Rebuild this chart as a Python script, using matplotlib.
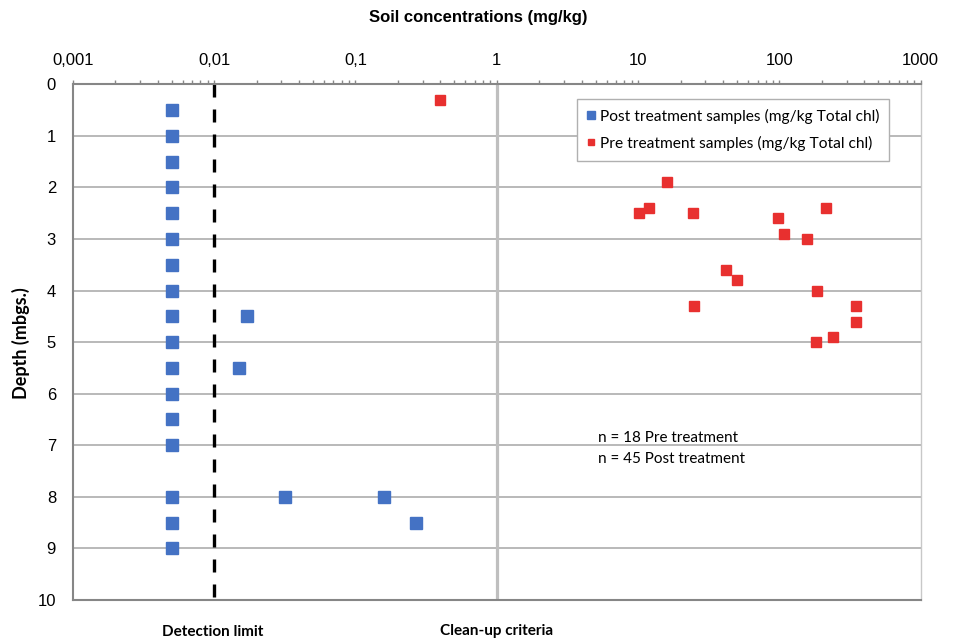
import numpy as np
import matplotlib
matplotlib.use('Agg')
import matplotlib.pyplot as plt
from matplotlib.ticker import FixedLocator, LogLocator, NullFormatter

# post treatment samples (mg/kg Total chl)
post_conc = [0.005] * 17 + [0.017, 0.015, 0.032, 0.16, 0.27]
post_depth = [0.5, 1, 1.5, 2, 2.5, 3, 3.5, 4, 4.5, 5, 5.5, 6, 6.5, 7, 8, 8.5, 9,
              4.5, 5.5, 8, 8, 8.5]

# pre treatment samples (mg/kg Total chl)
pre_conc = [0.40, 16, 10.1, 12, 24.4, 98, 215, 108, 157, 42, 50, 184, 25,
            346, 349, 241, 182]
pre_depth = [0.3, 1.9, 2.5, 2.4, 2.5, 2.6, 2.4, 2.9, 3.0, 3.6, 3.8, 4.0, 4.3,
             4.3, 4.6, 4.9, 5.0]

detection_limit = 0.01
cleanup = 1.0

xticks = [0.001, 0.01, 0.1, 1, 10, 100, 1000]
xticklabels = ['0,001', '0,01', '0,1', '1', '10', '100', '1000']
yticks = list(range(0, 11))

fig = plt.figure(figsize=(9.58, 6.41), dpi=100)
ax = fig.add_axes([0.0759, 0.064, 0.8852, 0.8045])

ax.set_xscale('log')
ax.set_xlim(0.001, 1000)
ax.set_ylim(10, 0)

for y in yticks:
    ax.axhline(y, color='#a6a6a6', lw=1.1, zorder=1)

ax.axvline(cleanup, color='#bfbfbf', lw=2.3, zorder=2)
ax.plot([detection_limit, detection_limit], [0, 10], color='black', lw=2.4,
        ls=(0, (3.9, 3.6)), zorder=2, solid_capstyle='butt')

ax.plot(post_conc, post_depth, ls='none', marker='s', ms=8, color='#4472C4',
        mec='#4472C4', zorder=4, label='Post treatment samples (mg/kg Total chl)')
ax.plot(pre_conc, pre_depth, ls='none', marker='s', ms=7, color='#E8302F',
        mec='#E8302F', zorder=4, label='Pre treatment samples (mg/kg Total chl)')

leg = ax.legend(loc='upper left', bbox_to_anchor=(0.595, 0.972), borderaxespad=0,
                prop={'family': 'Lato', 'size': 11.2}, markerscale=0.68,
                handlelength=0.5, handletextpad=0.3, labelspacing=0.75,
                borderpad=0.65, fancybox=False, framealpha=1)
leg.get_frame().set_edgecolor('#b0b0b0')
leg.get_frame().set_linewidth(1.0)

# x axis on top
ax.xaxis.set_ticks_position('top')
ax.xaxis.set_label_position('top')
ax.xaxis.set_major_locator(FixedLocator(xticks))
ax.set_xticklabels(xticklabels, fontfamily='Liberation Sans', fontsize=12)
ax.xaxis.set_minor_locator(LogLocator(base=10, subs=np.arange(2, 10)))
ax.xaxis.set_minor_formatter(NullFormatter())
ax.tick_params(axis='x', which='both', direction='out', length=3, width=1,
               color='#888888', pad=9)

ax.set_yticks(yticks)
ax.set_yticklabels([str(v) for v in yticks], fontfamily='Liberation Sans', fontsize=12)
ax.tick_params(axis='y', length=0, pad=12)

ax.spines['top'].set_color('#868686')
ax.spines['top'].set_linewidth(1.5)
ax.spines['left'].set_color('#868686')
ax.spines['left'].set_linewidth(1.5)
ax.spines['bottom'].set_color('#868686')
ax.spines['bottom'].set_linewidth(1.5)
ax.spines['right'].set_color('#c8c8c8')
ax.spines['right'].set_linewidth(1.0)

fig.text(0.499, 0.972, 'Soil concentrations (mg/kg)', ha='center', va='center',
         fontfamily='Liberation Sans', fontweight='bold', fontsize=12)
fig.text(0.022, 0.465, 'Depth (mbgs.)', ha='center', va='center', rotation=90,
         fontfamily='Lato', fontweight='bold', fontsize=13)

ax.text(0.619, 6.86, 'n = 18 Pre treatment', transform=ax.get_yaxis_transform(),
        ha='left', va='center', fontfamily='Lato', fontsize=11)
ax.text(0.619, 7.27, 'n = 45 Post treatment', transform=ax.get_yaxis_transform(),
        ha='left', va='center', fontfamily='Lato', fontsize=11)

fig.text(213 / 958, 1 - 632 / 641, 'Detection limit', ha='center', va='center',
         fontfamily='Lato', fontweight='bold', fontsize=11)
fig.text(497 / 958, 1 - 631 / 641, 'Clean-up criteria', ha='center', va='center',
         fontfamily='Lato', fontweight='bold', fontsize=11)

fig.savefig('out.png', dpi=100)
